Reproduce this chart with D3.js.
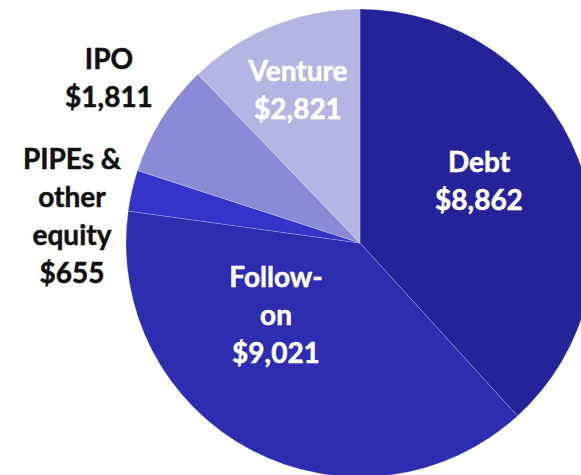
<!DOCTYPE html>
<html>
<head>
<meta charset="utf-8">
<script src="https://cdn.jsdelivr.net/npm/d3@7"></script>
<style>
  body { margin: 0; background: #fff; }
  svg text { font-family: Lato, "Open Sans", sans-serif; font-weight: bold; }
</style>
</head>
<body>
<div id="chart"></div>
<script>
// slices, clockwise from 12 o'clock
const names = ["Debt", "Follow-on", "PIPEs & other equity", "IPO", "Venture"];
const values = [8862, 9021, 655, 1811, 2821];
const colors = ["#25239a", "#2e2db0", "#3434c9", "#8a8ad6", "#b5b5e3"];
// label lines for each slice
const labelLines = [
  ["Debt", "$8,862"],
  ["Follow-", "on", "$9,021"],
  ["PIPEs &", "other", "equity", "$655"],
  ["IPO", "$1,811"],
  ["Venture", "$2,821"]
];
const labelInside = [true, true, false, false, true];

const width = 581, height = 475;
const cx = 360, cy = 243, radius = 234;
const lineH = 38;

const svg = d3.select("#chart").append("svg")
  .attr("width", width)
  .attr("height", height);

const pie = d3.pie().sort(null).value(d => d);
const arcs = pie(values);
const arc = d3.arc().innerRadius(0).outerRadius(radius);

const g = svg.append("g").attr("transform", `translate(${cx},${cy})`);

g.selectAll("path")
  .data(arcs)
  .join("path")
  .attr("d", arc)
  .attr("fill", (d, i) => colors[i])
  .attr("stroke", "rgba(255,255,255,0.35)")
  .attr("stroke-width", 0.6);

// label positions (first-line baseline), hand placed like the original
const labelPos = [[479, 172], [276, 287], [72, 169], [109, 69], [298, 81]];

arcs.forEach((d, i) => {
  const col = labelInside[i] ? "#ffffff" : "#111111";
  const t = svg.append("text")
    .attr("text-anchor", "middle")
    .attr("font-size", 28)
    .attr("fill", col)
    .attr("stroke", col)
    .attr("stroke-width", 0.5);
  labelLines[i].forEach((line, k) => {
    t.append("tspan")
      .attr("x", labelPos[i][0])
      .attr("y", labelPos[i][1] + k * lineH)
      .text(line);
  });
});
</script>
</body>
</html>
